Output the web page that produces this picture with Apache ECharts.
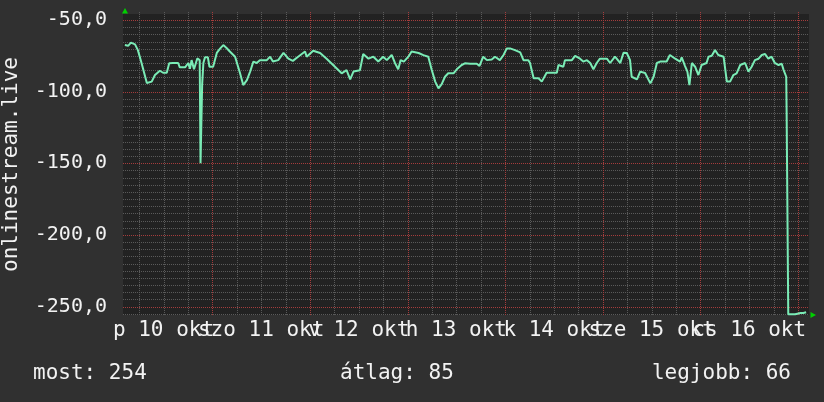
<!DOCTYPE html>
<html>
<head>
<meta charset="utf-8">
<script src="https://cdn.jsdelivr.net/npm/echarts@6/dist/echarts.min.js"></script>
<style>html,body{margin:0;padding:0;background:#303030;}#c{width:824px;height:402px;}</style>
</head>
<body>
<div id="c"></div>
<script>
// ---- data ----
const axisTitle = 'onlinestream.live';
const dayLabels = ['p 10 okt', 'szo 11 okt', 'v 12 okt', 'h 13 okt', 'k 14 okt', 'sze 15 okt', 'cs 16 okt'];
const dayLabelHours = [12, 36, 60, 84, 108, 132, 156];   // noon of each day, hours since 10 okt 00:00
const yTickValues = [-50, -100, -150, -200, -250];
const statTexts = ['most: 254', 'átlag: 85', 'legjobb: 66'];
const xRange = [2.04, 170.7];
const yRange = [-255.9, -45.8];

const hours = [
  2.5, 3.3, 4.0, 5.0, 5.7, 6.6, 7.9, 9.1, 9.9, 11.1, 11.9, 12.8, 13.4, 14.3, 15.6, 16.0, 17.3, 18.1, 18.5, 18.9,
  19.5, 20.3, 20.9, 21.1, 21.5, 21.8, 22.2, 22.9, 23.3, 24.2, 25.1, 25.9, 26.7, 27.5, 28.3, 29.6, 30.8, 31.6, 32.5, 33.3,
  34.1, 34.9, 35.7, 37.4, 38.2, 38.9, 40.2, 41.5, 42.7, 43.8, 45.1, 46.8, 47.2, 48.8, 50.5, 52.1, 53.7, 55.8, 57.0, 57.9,
  58.7, 60.3, 61.1, 62.4, 63.6, 64.8, 66.0, 66.9, 68.1, 68.9, 69.7, 70.3, 71.1, 72.2, 73.0, 74.7, 75.9, 77.1, 77.9, 78.8,
  79.6, 80.4, 81.2, 82.0, 83.3, 84.1, 85.3, 86.1, 87.4, 89.0, 89.7, 90.6, 91.5, 92.7, 93.5, 94.7, 95.6, 96.4, 97.2, 98.4,
  99.7, 100.5, 101.7, 102.1, 103.0, 104.2, 105.0, 106.2, 108.7, 109.1, 110.3, 110.7, 112.4, 113.2, 114.4, 115.2, 116.1, 116.9, 117.7, 118.5,
  119.3, 121.0, 121.8, 123.0, 124.3, 125.1, 125.9, 126.7, 127.1, 128.4, 129.2, 130.4, 131.7, 132.5, 133.3, 134.1, 135.7, 136.5, 137.8, 139.0,
  139.4, 140.2, 140.8, 141.3, 141.9, 142.7, 143.5, 144.3, 145.5, 146.0, 146.8, 147.6, 148.4, 149.7, 150.5, 151.3, 152.1, 152.9, 153.8, 155.0,
  155.8, 156.6, 157.4, 158.3, 159.1, 159.9, 160.7, 161.5, 162.3, 163.2, 164.0, 164.4, 165.1, 165.2, 165.6, 167.3, 168.6, 169.3, 170.0
];
const values = [
  -67.5, -68, -65.8, -67, -71, -80, -94, -93, -88.4, -85.4, -86.8, -86.8, -80.2, -80, -80, -83, -83, -80, -84, -78,
  -84.4, -76.8, -78, -150, -95, -80, -76, -76, -82.6, -82.6, -73, -70, -67.5, -69.5, -72, -75.6, -87, -95.4, -92, -86,
  -79, -80, -78, -78, -75.6, -79, -78, -73, -77, -78.5, -75.6, -72, -75.6, -71.4, -73, -77, -81.4, -87.2, -85, -91.4,
  -86, -85, -73.7, -77, -75.6, -79, -75.6, -78, -74.4, -80, -84.4, -78, -79, -75.6, -72, -73, -74.5, -75.6, -84.4, -93,
  -97.7, -94.7, -89.6, -87.2, -87.2, -84.4, -81.4, -80.2, -80.5, -80.5, -82, -75.6, -78, -77.5, -75.6, -78, -74.4, -69.8, -69.8, -71,
  -72.6, -78, -78, -80, -90.7, -90.7, -93, -86.8, -86.8, -81.4, -82.6, -78, -78, -75, -77, -79, -78, -80, -84.4, -80,
  -77, -77, -80, -75.6, -80, -72.8, -73, -78, -89.6, -91.4, -86, -87, -94.2, -89.6, -80, -79, -79, -74.4, -77, -79,
  -76, -82, -86, -95.4, -80, -82.6, -88.4, -81.4, -80, -75.6, -75, -71, -74.4, -75.6, -93, -93, -88.4, -87.2, -81.4, -80,
  -86, -82.6, -78, -77, -74.4, -73.7, -77, -75.6, -80, -81.4, -80.5, -84.4, -89.6, -115, -255.4, -255.4, -254.5, -254.5, -254
];

// ---- build ----
const FONT = 'DejaVu Sans Mono';
const TXT = '#f2f2f2';
const MAJOR = '#a53c3c';
const MINOR = '#5a5a5a';
const seriesData = hours.map((h, i) => [h, values[i]]);

const chart = echarts.init(document.getElementById('c'), null, { renderer: 'canvas' });
chart.setOption({
  animation: false,
  backgroundColor: '#303030',
  grid: { left: 123, top: 14, width: 686, height: 301, show: false },
  xAxis: {
    type: 'value', min: xRange[0], max: xRange[1],
    splitLine: { show: false }, axisTick: { show: false }, axisLine: { show: false },
    axisLabel: { show: false }
  },
  yAxis: {
    type: 'value', min: yRange[0], max: yRange[1],
    splitLine: { show: false }, axisTick: { show: false }, axisLine: { show: false },
    axisLabel: {
      customValues: yTickValues, color: TXT, fontFamily: FONT, fontSize: 20, margin: 16,
      formatter: v => v.toFixed(1).replace('.', ',')
    }
  },
  series: [
    {
      type: 'line', data: seriesData, z: 5, showSymbol: false, silent: true,
      lineStyle: { color: '#7aecb6', width: 2 }, itemStyle: { color: '#7aecb6' }
    }
  ]
});

// grid, axis labels and decorations placed through the chart's own scales
const px = h => chart.convertToPixel({ xAxisIndex: 0 }, h);
const py = v => chart.convertToPixel({ yAxisIndex: 0 }, v);
const x0 = px(xRange[0]), x1 = px(xRange[1]);
const yTop = py(yRange[1]), yBot = py(yRange[0]);
const font = s => s + 'px "' + FONT + '"';
const g = [];
g.push({ type: 'rect', z: 0, silent: true, shape: { x: x0, y: yTop, width: x1 - x0, height: yBot - yTop }, style: { fill: '#222222' } });
for (let v = -50; v >= yRange[0]; v -= 5) {
  const y = Math.round(py(v)) + 0.5;
  g.push({ type: 'line', z: 1, silent: true, shape: { x1: x0, y1: y, x2: x1, y2: y },
    style: { stroke: v % 50 === 0 ? MAJOR : MINOR, lineWidth: 1, lineDash: [1, 1] } });
}
for (let h = 6; h < xRange[1]; h += 6) {
  const x = Math.round(px(h)) + 0.5;
  g.push({ type: 'line', z: 1, silent: true, shape: { x1: x, y1: yTop - 2, x2: x, y2: yBot },
    style: { stroke: h % 24 === 0 ? MAJOR : MINOR, lineWidth: 1, lineDash: [1, 1] } });
}
dayLabelHours.forEach((h, i) => {
  g.push({ type: 'text', z: 2, silent: true, x: px(h), y: yBot + 16,
    style: { text: dayLabels[i], fill: TXT, font: font(21), align: 'center', verticalAlign: 'middle' } });
});
g.push({ type: 'text', z: 2, x: 12, y: (yTop + yBot) / 2, rotation: Math.PI / 2,
  style: { text: axisTitle, fill: TXT, font: font(21), align: 'center', verticalAlign: 'middle' } });
g.push({ type: 'text', z: 2, x: 33, y: 374, style: { text: statTexts[0], fill: TXT, font: font(21), align: 'left', verticalAlign: 'middle' } });
g.push({ type: 'text', z: 2, x: 340, y: 374, style: { text: statTexts[1], fill: TXT, font: font(21), align: 'left', verticalAlign: 'middle' } });
g.push({ type: 'text', z: 2, x: 791, y: 374, style: { text: statTexts[2], fill: TXT, font: font(21), align: 'right', verticalAlign: 'middle' } });
g.push({ type: 'polygon', z: 2, shape: { points: [[x0 - 1, yTop - 0.5], [x0 + 5, yTop - 0.5], [x0 + 2, yTop - 6]] }, style: { fill: '#00d000' } });
g.push({ type: 'polygon', z: 2, shape: { points: [[x1 + 1.5, yBot - 3], [x1 + 1.5, yBot + 3], [x1 + 7, yBot]] }, style: { fill: '#00d000' } });
chart.setOption({ graphic: g });
</script>
</body>
</html>
